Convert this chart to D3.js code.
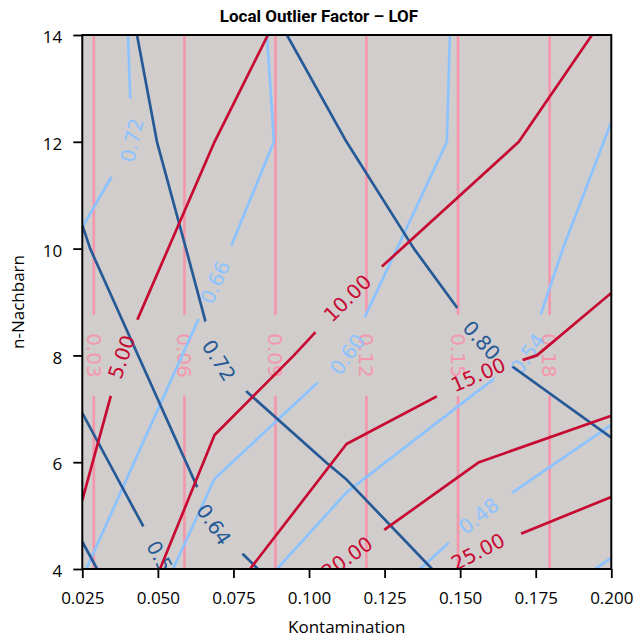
<!DOCTYPE html>
<html>
<head>
<meta charset="utf-8">
<script src="https://cdn.jsdelivr.net/npm/d3@7"></script>
<style>
body{margin:0;background:#fff;}
.axis text{font-family:"Open Sans",sans-serif;font-size:17px;fill:#000;}
.axis line{stroke:#000;stroke-width:1.8px;}
.clabel{font-family:"DejaVu Sans",sans-serif;font-size:20px;}
</style>
</head>
<body>
<div id="canvas"></div>
<script>
// values
var xTicks = [0.025,0.05,0.075,0.1,0.125,0.15,0.175,0.2];
var yTicks = [4,6,8,10,12,14];

// contamination contours (vertical), labels sit at n = 8
var pinkLevels = [0.0288,0.0588,0.0889,0.1190,0.1493,0.1796];
var pinkLabelY = 8.0;

// [kontamination, n] points for each contour, plus where its label sits
var lightLines = [
    {level:0.72, label:[0.0411,12.03], pts:[[0.025,10.40],[0.0414,12.0],[0.0401,14]]},
    {level:0.66, label:[0.0689,9.37], pts:[[0.0861,14],[0.0884,12],[0.0739,10],[0.0263,4]]},
    {level:0.60, label:[0.1120,8.04], pts:[[0.1466,14],[0.1456,12],[0.1291,10],[0.1125,8],[0.06875,5.69],[0.0550,4]]},
    {level:0.54, label:[0.1721,8.03], pts:[[0.2,12.37],[0.184,10],[0.1721,8],[0.15625,7.35],[0.1125,5.44],[0.0894,4]]},
    {level:0.48, label:[0.1559,5.01], pts:[[0.2,6.70],[0.15625,5.0],[0.1367,4]]},
    {level:0.42, label:null, pts:[[0.1946,4],[0.2,4.21]]}
];
var darkLines = [
    {level:0.80, label:[0.1572,8.29], pts:[[0.0927,14],[0.1124,12],[0.1347,10],[0.15625,8.33],[0.1622,8.0],[0.2,6.46]]},
    {level:0.72, label:[0.0697,7.88], pts:[[0.0431,14],[0.0497,12],[0.0593,10],[0.06875,8],[0.0788,7.35],[0.1056,6.0],[0.1125,5.67],[0.1407,4]]},
    {level:0.64, label:[0.0687,4.84], pts:[[0.025,10.44],[0.0276,10],[0.06875,4.81],[0.0831,4]]},
    {level:0.56, label:[0.0514,4.13], pts:[[0.025,6.92],[0.0464,4.67],[0.054,3.89]]},
    {level:0.48, label:null, pts:[[0.025,4.51],[0.0299,4]]}
];
var redLines = [
    {level:5, label:[0.0381,7.97], pts:[[0.0864,14],[0.06875,12],[0.0381,8],[0.025,5.29]]},
    {level:10, label:[0.1124,9.09], pts:[[0.0507,4],[0.06875,6.51],[0.0950,8],[0.1124,9.06],[0.1694,12],[0.1936,14]]},
    {level:15, label:[0.1555,7.69], pts:[[0.0805,4],[0.1124,6.34],[0.15625,7.65],[0.1754,8.0],[0.2,9.17]]},
    {level:20, label:[0.1124,4.22], pts:[[0.1004,3.74],[0.1125,4.21],[0.1258,4.77],[0.15625,6.0],[0.2,6.87]]},
    {level:25, label:[0.1555,4.36], pts:[[0.1433,3.89],[0.15625,4.34],[0.2,5.35]]}
];

var W = 638, H = 641;
var m = {t:35,r:26.7,b:72,l:82.3};
var w = W - m.l - m.r,
    h = H - m.t - m.b;

var svg = d3.select('#canvas')
    .append('svg')
    .attr('width',W)
    .attr('height',H);
var defs = svg.append('defs');
defs.append('clipPath').attr('id','clip')
    .append('rect').attr('width',w).attr('height',h);

var plot = svg.append('g')
    .attr('transform','translate(' + m.l + ',' + m.t + ')');

//Scale
var scaleX = d3.scaleLinear().domain([0.025,0.2]).range([0,w]);
var scaleY = d3.scaleLinear().domain([4,14]).range([h,0]);

plot.append('rect')
    .attr('width',w).attr('height',h)
    .style('fill','#d1cdcd');

var sets = [
    {color:'#f398ac', fmt:d3.format('.2f'), lines:pinkLevels.map(function(v){
        return {level:v, label:[v,pinkLabelY], pts:[[v,4],[v,14]]};
    })},
    {color:'#8cc3ff', fmt:d3.format('.2f'), lines:lightLines},
    {color:'#265a96', fmt:d3.format('.2f'), lines:darkLines},
    {color:'#c70a32', fmt:d3.format('.2f'), lines:redLines}
];

var lineGenerator = d3.line()
    .x(function(d){return scaleX(d[0])})
    .y(function(d){return scaleY(d[1])});

var layer = plot.append('g').attr('clip-path','url(#clip)');
var maskId = 0;

sets.forEach(function(set){
    var g = layer.append('g');
    var lab = layer.append('g');
    set.lines.forEach(function(line){
        var path = g.append('path')
            .datum(line.pts)
            .attr('d',lineGenerator)
            .style('fill','none')
            .style('stroke',set.color)
            .style('stroke-width','2.7px')
            .style('stroke-linejoin','round');
        if(!line.label) return;

        var px = line.pts.map(function(d){return [scaleX(d[0]),scaleY(d[1])]});
        var lp = [scaleX(line.label[0]),scaleY(line.label[1])];
        var pos = project(px,lp);

        var text = lab.append('text')
            .attr('class','clabel')
            .style('fill',set.color)
            .attr('text-anchor','middle')
            .attr('dy','0.36em')
            .text(set.fmt(line.level));
        var L = text.node().getComputedTextLength();

        var a = pointAt(px,pos.s - L/2), b = pointAt(px,pos.s + L/2);
        var ang = Math.atan2(b[1]-a[1], b[0]-a[0])*180/Math.PI;
        if(ang > 90) ang -= 180;
        if(ang <= -90) ang += 180;
        var tr = 'translate(' + pos.p[0] + ',' + pos.p[1] + ') rotate(' + ang + ')';
        text.attr('transform',tr);

        // cut the line where its label sits
        var id = 'gap' + (maskId++);
        var mask = defs.append('mask').attr('id',id)
            .attr('maskUnits','userSpaceOnUse')
            .attr('x',-50).attr('y',-50).attr('width',w+100).attr('height',h+100);
        mask.append('rect').attr('x',-50).attr('y',-50)
            .attr('width',w+100).attr('height',h+100).style('fill','#fff');
        mask.append('rect')
            .attr('x',-(L+36)/2).attr('y',-13)
            .attr('width',L+36).attr('height',26)
            .attr('transform',tr)
            .style('fill','#000');
        path.attr('mask','url(#' + id + ')');
    });
});

//Axis
var axisX = d3.axisBottom(scaleX)
    .tickValues(xTicks)
    .tickFormat(d3.format('.3f'))
    .tickSize(9).tickPadding(14);
var axisY = d3.axisLeft(scaleY)
    .tickValues(yTicks)
    .tickFormat(d3.format('d'))
    .tickSize(9).tickPadding(11);

var gx = plot.append('g').attr('class','axis axis-x')
    .attr('transform','translate(0,' + h + ')')
    .call(axisX);
gx.select('.domain').remove();
gx.selectAll('text').attr('dy','0.71em');
var gy = plot.append('g').attr('class','axis axis-y')
    .call(axisY);
gy.select('.domain').remove();
gy.selectAll('text').attr('dy','0.45em');

plot.append('rect')
    .attr('width',w).attr('height',h)
    .style('fill','none')
    .style('stroke','#000')
    .style('stroke-width','2px');

svg.append('text')
    .attr('x',W/2).attr('y',22)
    .attr('text-anchor','middle')
    .style('font-family','Roboto,sans-serif')
    .style('font-weight','700')
    .style('font-size','17px')
    .text('Local Outlier Factor – LOF');

svg.append('text')
    .attr('x',m.l + w/2).attr('y',633)
    .attr('text-anchor','middle')
    .style('font-family','"Open Sans",sans-serif')
    .style('font-size','17px')
    .text('Kontamination');

svg.append('text')
    .attr('transform','translate(24,' + (m.t + h/2) + ') rotate(-90)')
    .attr('text-anchor','middle')
    .style('font-family','"Open Sans",sans-serif')
    .style('font-size','17px')
    .text('n-Nachbarn');

// nearest point on polyline and its distance along it
function project(pts,p){
    var best = {d:Infinity}, acc = 0;
    for(var i=0;i<pts.length-1;i++){
        var a = pts[i], b = pts[i+1];
        var vx = b[0]-a[0], vy = b[1]-a[1];
        var len = Math.sqrt(vx*vx+vy*vy);
        var t = ((p[0]-a[0])*vx + (p[1]-a[1])*vy)/(len*len);
        t = Math.max(0,Math.min(1,t));
        var q = [a[0]+t*vx, a[1]+t*vy];
        var d = Math.hypot(q[0]-p[0], q[1]-p[1]);
        if(d < best.d) best = {d:d, p:q, s:acc + t*len};
        acc += len;
    }
    return best;
}
function pointAt(pts,s){
    var acc = 0;
    for(var i=0;i<pts.length-1;i++){
        var a = pts[i], b = pts[i+1];
        var len = Math.hypot(b[0]-a[0], b[1]-a[1]);
        if(s <= acc + len || i == pts.length-2){
            var t = (s-acc)/len;
            return [a[0]+t*(b[0]-a[0]), a[1]+t*(b[1]-a[1])];
        }
        acc += len;
    }
}
</script>
</body>
</html>
